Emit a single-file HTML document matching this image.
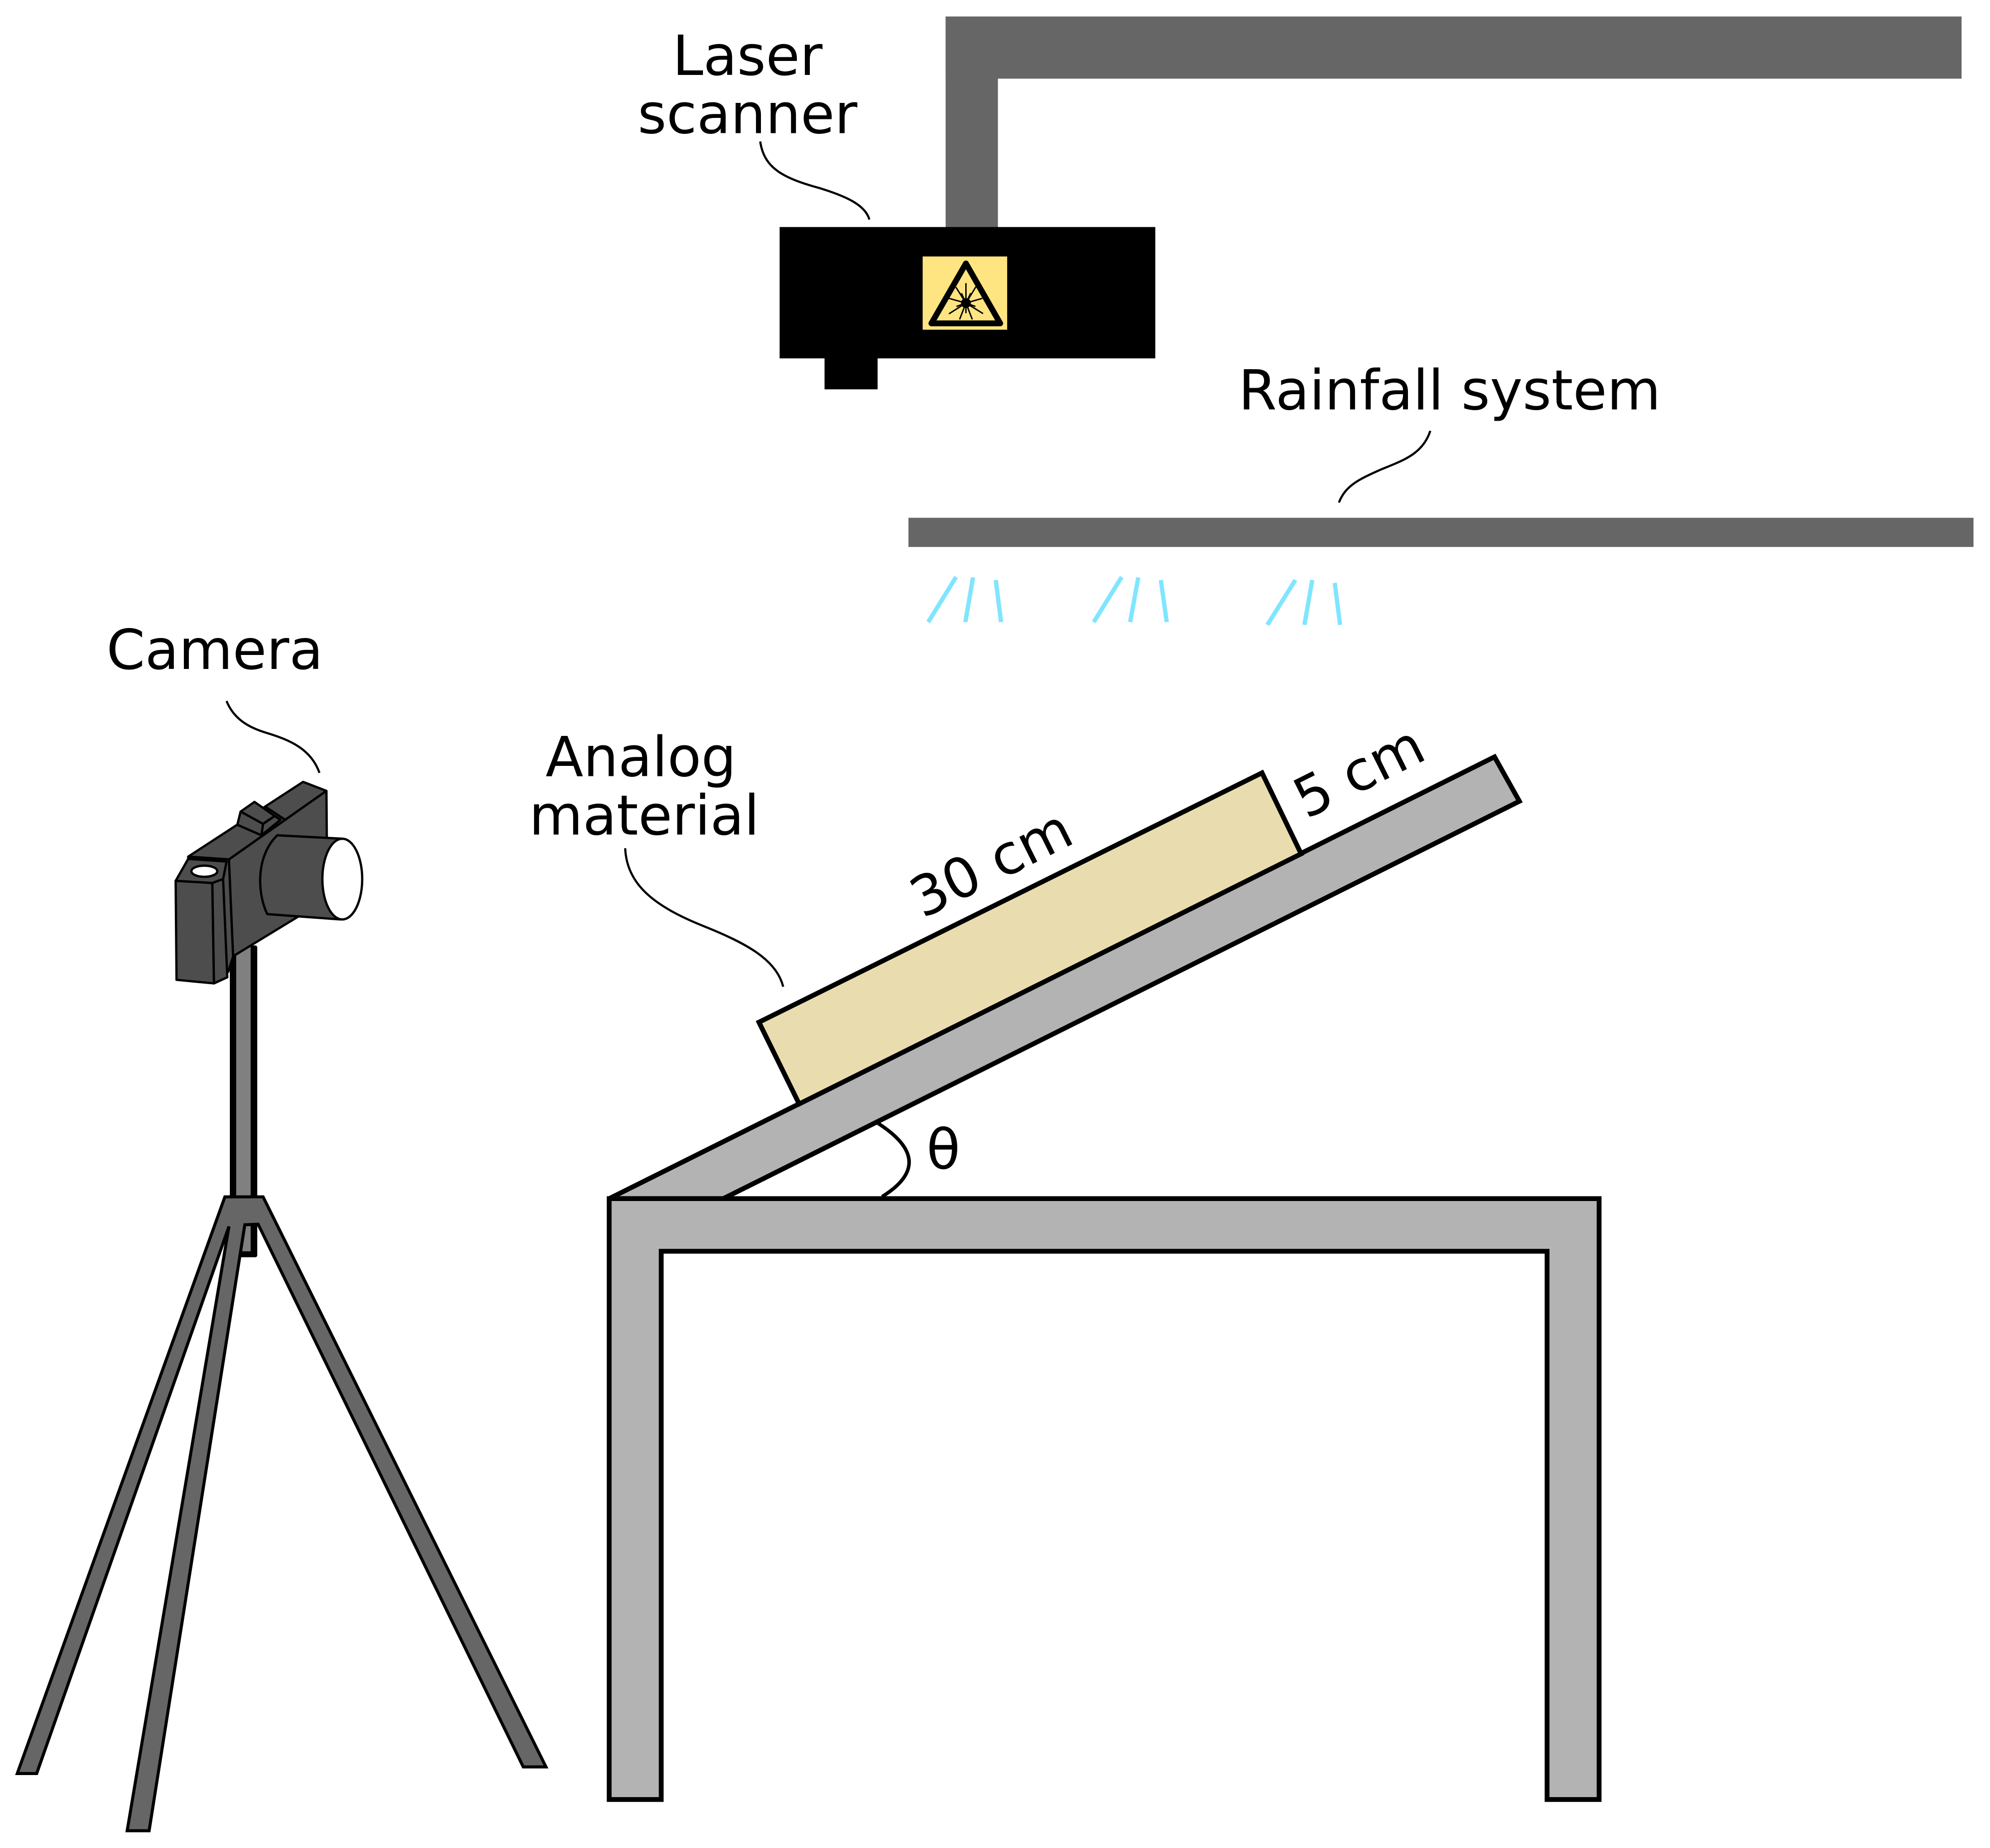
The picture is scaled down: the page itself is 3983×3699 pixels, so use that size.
<!DOCTYPE html>
<html>
<head>
<meta charset="utf-8">
<style>
  html, body { margin: 0; padding: 0; background: #ffffff; }
  svg { display: block; }
  text { font-family: "DejaVu Sans", "Liberation Sans", sans-serif; font-size: 43.5px; fill: #000; }
</style>
</head>
<body>
<svg xmlns="http://www.w3.org/2000/svg" width="3983" height="3699" viewBox="0 0 1568 1456.2" preserveAspectRatio="none">
  <rect x="0" y="0" width="1568" height="1456.2" fill="#ffffff"/>

  <!-- Overhead frame -->
  <rect x="745.1" y="13" width="800.5" height="49" fill="#666666"/>
  <rect x="745.1" y="13" width="41.2" height="167" fill="#666666"/>

  <!-- Laser scanner -->
  <rect x="614.3" y="178.9" width="296" height="103.5" fill="#000000"/>
  <rect x="649.7" y="280" width="41.8" height="26.8" fill="#000000"/>
  <rect x="727" y="202.1" width="66.6" height="57.7" fill="#FEE581"/>
  <polygon points="761.1,207.6 733.9,254.8 788.1,254.8" fill="none" stroke="#000" stroke-width="4.6" stroke-linejoin="round"/>
  <g stroke="#000" stroke-width="1.1" stroke-linecap="butt">
    <line x1="761.1" y1="238.8" x2="761.1" y2="223.1"/>
    <line x1="761.1" y1="238.8" x2="753.2" y2="226.3"/>
    <line x1="761.1" y1="238.8" x2="769.0" y2="225.9"/>
    <line x1="761.1" y1="238.8" x2="747.7" y2="235.1"/>
    <line x1="761.1" y1="238.8" x2="774.0" y2="235.1"/>
    <line x1="761.1" y1="238.8" x2="747.7" y2="247.3"/>
    <line x1="761.1" y1="238.8" x2="774.6" y2="247.1"/>
    <line x1="761.1" y1="238.8" x2="756.1" y2="251.7"/>
    <line x1="761.1" y1="238.8" x2="766.1" y2="251.7"/>
    <line x1="761.1" y1="238.8" x2="757.5" y2="231.0"/>
    <line x1="761.1" y1="238.8" x2="764.9" y2="231.0"/>
    <line x1="761.1" y1="238.8" x2="753.6" y2="241.5"/>
    <line x1="761.1" y1="238.8" x2="768.6" y2="241.5"/>
    <line x1="761.1" y1="238.8" x2="761.1" y2="246.8"/>
  </g>
  <circle cx="761.1" cy="238.8" r="3.9" fill="#000"/>

  <!-- Laser scanner label -->
  <text x="589" y="59" text-anchor="middle">Laser</text>
  <text x="589" y="105" text-anchor="middle">scanner</text>
  <path d="M599,111.5 C602,132 616,140 645,148 C668,155 682,162 685,173" fill="none" stroke="#000" stroke-width="1.7"/>

  <!-- Rainfall system -->
  <rect x="715.8" y="408" width="839.2" height="23" fill="#666666"/>
  <text x="975.8" y="322.6">Rainfall system</text>
  <path d="M1127,339.5 C1121,358 1105,363 1088,370 C1070,378 1060,383 1055,396" fill="none" stroke="#000" stroke-width="1.7"/>

  <!-- Rain drops -->
  <g stroke="#80E5FF" stroke-width="3.4" stroke-linecap="butt">
    <line x1="753.3" y1="454.7" x2="731.4" y2="490.2"/>
    <line x1="766.7" y1="455" x2="760.6" y2="490.2"/>
    <line x1="784.6" y1="457.1" x2="788.8" y2="490.2"/>
    <line x1="883.8" y1="454.7" x2="861.8" y2="490.2"/>
    <line x1="896.9" y1="455" x2="890.5" y2="490.2"/>
    <line x1="914.7" y1="457.1" x2="919.3" y2="490.2"/>
    <line x1="1020.7" y1="457" x2="998.6" y2="492.4"/>
    <line x1="1034" y1="457" x2="1027.8" y2="492.4"/>
    <line x1="1051.7" y1="459.3" x2="1055.9" y2="492.4"/>
  </g>

  <!-- Inclined plane -->
  <polygon points="480,944.5 1177.6,596.4 1197.2,631.4 569.9,944.5" fill="#B3B3B3" stroke="#000" stroke-width="3.8" stroke-linejoin="miter"/>

  <!-- Analog material box -->
  <polygon points="598,805.5 994.4,609 1025.2,672.8 629.7,869.9" fill="#E9DDAF" stroke="#000" stroke-width="3.8" stroke-linejoin="miter"/>

  <!-- Table -->
  <path d="M480,944.5 H1260 V1418 H1219 V986 H521 V1418 H480 Z" fill="#B3B3B3" stroke="#000" stroke-width="3.8" stroke-linejoin="miter"/>

  <!-- Angle arc -->
  <path d="M690,884 Q740,915 695,943" fill="none" stroke="#000" stroke-width="2.8"/>
  <text x="730" y="921">θ</text>

  <!-- Dimension labels -->
  <text x="727" y="724" transform="rotate(-26.5 727 724)">30 cm</text>
  <text x="1029.2" y="645.6" transform="rotate(-26.5 1029.2 645.6)">5 cm</text>

  <!-- Analog material label -->
  <text x="505" y="611.5" text-anchor="middle">Analog</text>
  <text x="507.6" y="657.6" text-anchor="middle">material</text>
  <path d="M492.6,668.4 C494,697 515,714 555,730 C590,744 612,757 617.1,777.5" fill="none" stroke="#000" stroke-width="1.7"/>

  <!-- Tripod pole -->
  <rect x="181.1" y="745" width="21.6" height="245.7" rx="1.5" fill="#000"/>
  <rect x="186.1" y="745" width="11.4" height="241" fill="#808080"/>

  <!-- Tripod legs -->
  <polygon points="177.2,943.1 207.3,943.1 430.2,1392.3 412.3,1392.3 203.4,964.7 192.9,965.1 117.5,1442.6 100.2,1442.6 180.4,966.4 28.9,1397.5 13.6,1397.5" fill="#666666" stroke="#000" stroke-width="2.4" stroke-linejoin="miter"/>

  <!-- Camera -->
  <g stroke="#000" stroke-width="1.8" stroke-linejoin="round" fill="#4D4D4D">
    <polygon points="148.3,675 180.4,677.2 183.7,753.5 179.8,765.9 148.3,763.2"/>
    <polygon points="148.3,675 238.8,616.1 257.2,623.2 180.4,677.2"/>
    <polygon points="180.4,677.2 257.2,623.2 257.9,708.3 183.7,753.5"/>
    <line x1="208.6" y1="635.4" x2="224.4" y2="645.8"/>
    <polygon points="187,649.9 189.6,639.5 207.3,649.2 206,658.2"/>
    <polygon points="189.6,639.5 200.5,631.9 216.5,643 207.3,649.2"/>
    <polygon points="207.3,649.2 216.5,643 221,646 206,658.2"/>
    <polygon points="138.4,694.1 148.3,676.8 178.5,678.9 175.8,692.7 167.3,695.8"/>
    <polygon points="138.4,694.1 167.3,695.8 168.6,774.9 139.1,772.1"/>
    <polygon points="167.3,695.8 175.8,692.7 179.1,770.1 168.6,774.9"/>
    <ellipse cx="161" cy="686.5" rx="10.2" ry="4.4" fill="#ffffff"/>
    <path d="M218.5,658.2 L270,660.9 L268,724.5 L210.6,720.3 C203,705 201,675 218.5,658.2 Z"/>
    <ellipse cx="269.7" cy="692.7" rx="15.7" ry="31.8" fill="#ffffff"/>
  </g>

  <!-- Camera label -->
  <text x="83.9" y="527.2">Camera</text>
  <path d="M178.5,552.4 C184,566 195,573 210,577.5 C228,583 245,590 251.7,609" fill="none" stroke="#000" stroke-width="1.7"/>
</svg>
</body>
</html>
